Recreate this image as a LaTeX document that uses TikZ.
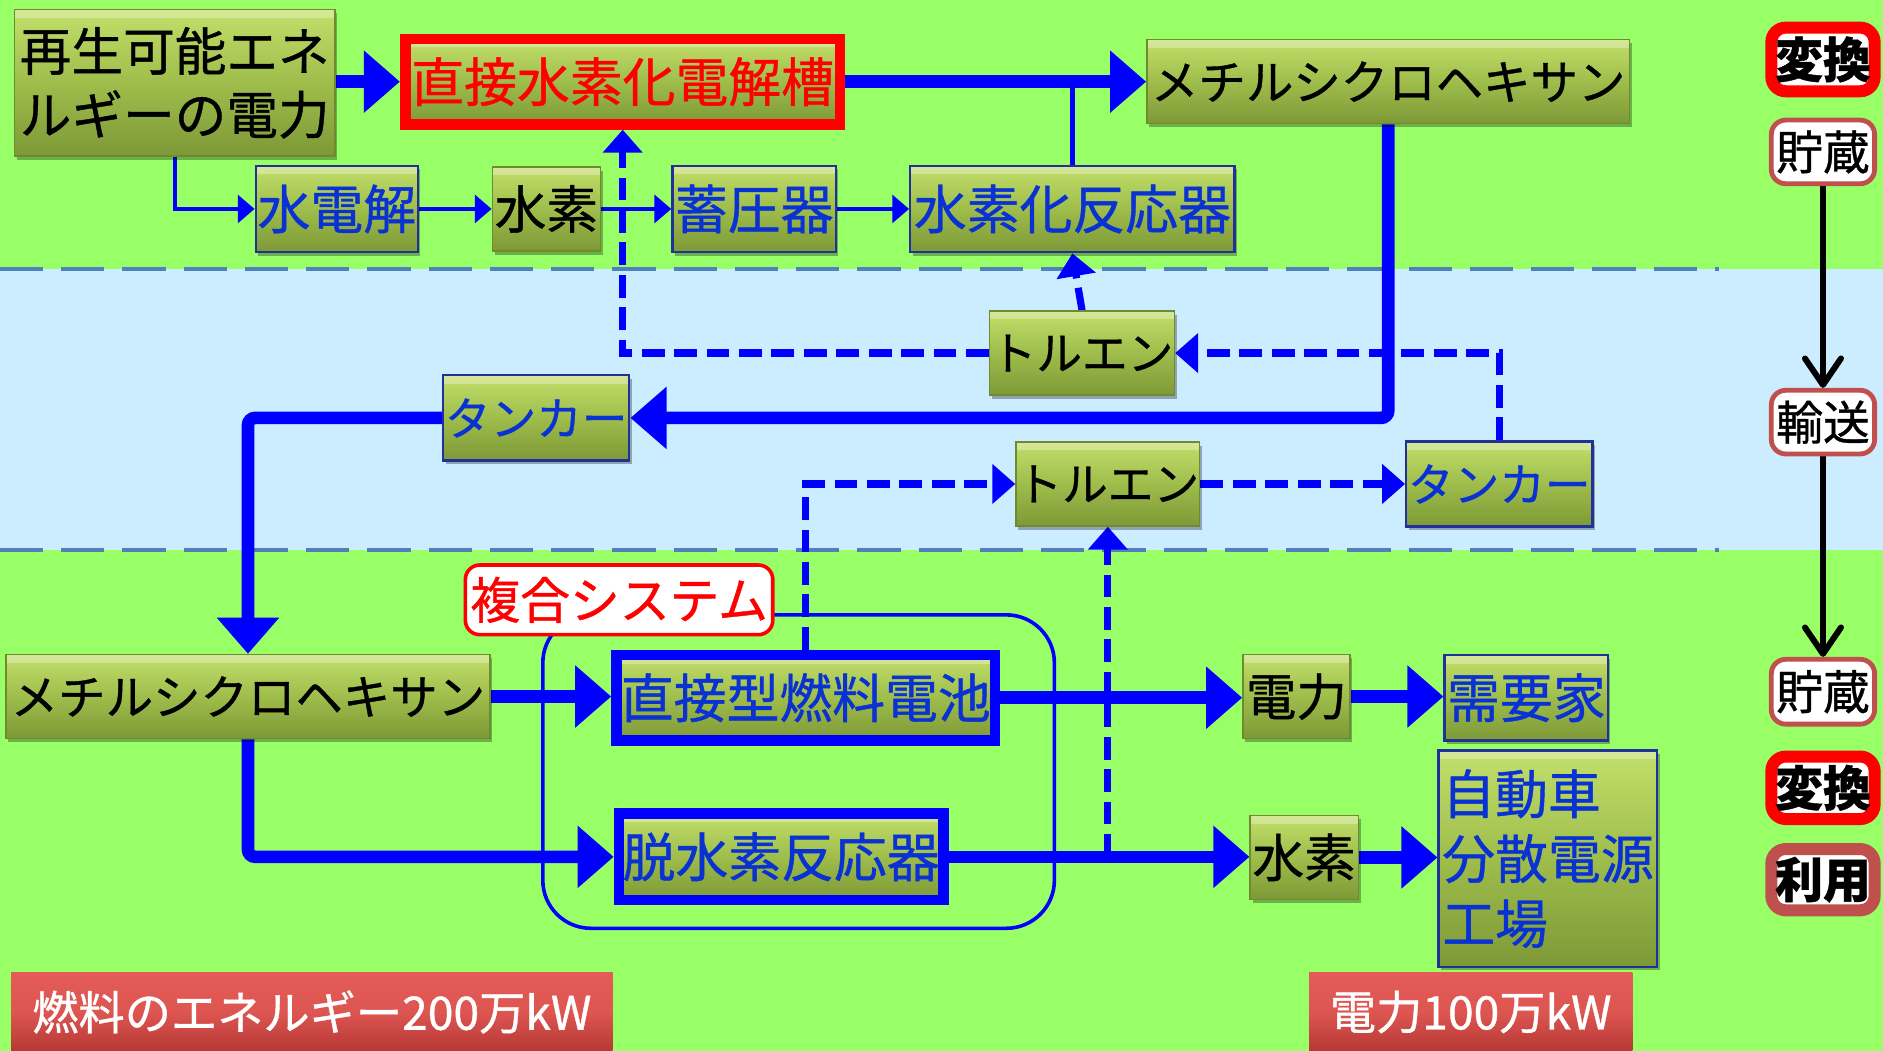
\documentclass[tikz,border=0pt]{standalone}
\usepackage{fontspec}
\setmainfont{Noto Sans CJK JP}[FakeBold=0.8]
\usetikzlibrary{arrows.meta,shadows}
\definecolor{bggreen}{HTML}{99FF66}
\definecolor{bgblue}{HTML}{CCECFF}
\definecolor{sepblue}{HTML}{4F81BD}
\definecolor{txtblue}{HTML}{0A32D2}
\definecolor{gtop}{HTML}{C3DF6B}
\definecolor{gmid}{HTML}{9EBD4B}
\definecolor{gbot}{HTML}{7D9937}
\definecolor{gedge}{HTML}{6F8A30}
\definecolor{bedge}{HTML}{22309A}
\definecolor{rtop}{HTML}{E45B57}
\definecolor{rbot}{HTML}{B63834}
\definecolor{brick}{HTML}{C0504D}
\pgfdeclarelayer{bgl}
\pgfdeclarelayer{lnl}
\pgfsetlayers{bgl,lnl,main}
\newcommand\fsz[2]{\fontsize{#1}{#2}\selectfont}
\begin{document}
\begin{tikzpicture}[x=1pt,y=-1pt,
  gbox/.style={shade, top color=gtop, bottom color=gbot, middle color=gmid,
    draw=gedge, line width=1.2pt, inner sep=0pt,
    drop shadow={shadow xshift=2pt,shadow yshift=-3pt,opacity=0.3,fill=black},
    path picture={\fill[white,opacity=0.3] (path picture bounding box.north west) rectangle ([yshift=-7pt]path picture bounding box.north east);},
    font=\fsz{44}{53}},
  bluebox/.style={gbox, draw=bedge, line width=2pt, text=txtblue},
  thickblue/.style={gbox, draw=blue, line width=9pt, text=txtblue},
  redthick/.style={gbox, draw=red, line width=9pt, text=red},
  redbox/.style={shade, top color=rtop, bottom color=rbot, middle color=rtop!85!rbot, inner sep=0pt, text=white, font=\fsz{38.5}{46}},
  lab/.style={fill=white, rounded corners=12pt, inner sep=0pt, minimum width=86pt, font=\fsz{39}{44}},
  conv/.style={lab, draw=red, line width=10pt, font=\fsz{40}{44}\bfseries},
  stor/.style={lab, draw=brick, line width=4pt},
  big/.style={draw=blue, line width=10.5pt, -{Triangle[length=30pt,width=50pt]}},
  thinarr/.style={draw=blue, line width=3.5pt, -{Triangle[length=14pt,width=23pt]}},
  thinln/.style={draw=blue, line width=4pt},
  dsh/.style={draw=blue, line width=6pt, dash pattern=on 19pt off 8pt, -{Triangle[length=19pt,width=32pt]}},
  sepline/.style={draw=sepblue, line width=4pt, dash pattern=on 36pt off 15pt},
  blk/.style={draw=black, line width=5pt, -{Straight Barb[length=22pt,width=30pt,round]}}
]
\useasboundingbox (0,0) rectangle (1568,875);
\begin{pgfonlayer}{bgl}
  \fill[bggreen] (0,0) rectangle (1568,875);
  \fill[bgblue] (0,224) rectangle (1568,458);
  \draw[sepline] (0,224) -- (1431,224);
  \draw[sepline] (0,458) -- (1431,458);
  \draw[blue, line width=3pt, rounded corners=40pt] (452,512) rectangle (878,773);
\end{pgfonlayer}

% nodes
\node[gbox, minimum width=267pt, minimum height=122pt, align=left, font=\fsz{43}{53}] (ren) at (145.5,69) {再生可能エネ\\ルギーの電力};
\node[redthick, minimum width=362pt, minimum height=71pt] (dhe) at (518.5,68) {直接水素化電解槽};
\node[gbox, minimum width=402pt, minimum height=70pt, font=\fsz{39.5}{48}] (mch1) at (1156,68) {メチルシクロヘキサン};
\node[bluebox, minimum width=135pt, minimum height=72pt] (wel) at (280.5,174) {水電解};
\node[gbox, minimum width=90pt, minimum height=70pt, font=\fsz{43}{50}] (h1) at (455,174) {水素};
\node[bluebox, minimum width=136pt, minimum height=72pt] (acc) at (628,174) {蓄圧器};
\node[bluebox, minimum width=270pt, minimum height=72pt] (hyd) at (893,174) {水素化反応器};
\node[gbox, minimum width=154pt, minimum height=70pt, font=\fsz{38}{46}] (tol1) at (901,294) {トルエン};
\node[bluebox, minimum width=155pt, minimum height=71pt, font=\fsz{38}{46}] (tk1) at (446.5,348) {タンカー};
\node[gbox, minimum width=153pt, minimum height=70pt, font=\fsz{38}{46}] (tol2) at (922.5,403) {トルエン};
\node[bluebox, minimum width=155pt, minimum height=71pt, font=\fsz{38}{46}] (tk2) at (1248.5,403) {タンカー};
\node[gbox, minimum width=403pt, minimum height=70pt, font=\fsz{39.5}{48}] (mch2) at (206.5,580) {メチルシクロヘキサン};
\node[thickblue, minimum width=315pt, minimum height=71pt] (fc) at (671,581) {直接型燃料電池};
\node[thickblue, minimum width=270pt, minimum height=72pt] (deh) at (650.5,713.5) {脱水素反応器};
\node[gbox, minimum width=89pt, minimum height=70pt, font=\fsz{42}{50}] (pw) at (1079.5,580) {電力};
\node[bluebox, minimum width=136pt, minimum height=71pt] (dem) at (1271,581) {需要家};
\node[gbox, minimum width=90pt, minimum height=70pt, font=\fsz{43}{50}] (h2) at (1086,714) {水素};
\node[bluebox, minimum width=182pt, minimum height=180pt, align=left, text width=176pt, font=\fsz{44}{54}] (use) at (1289,715) {自動車\\分散電源\\工場};
\node[redbox, minimum width=501pt, minimum height=65pt, anchor=north west] (fe) at (9,810) {燃料のエネルギー200万kW};
\node[redbox, minimum width=269pt, minimum height=65pt, anchor=north west] (pwr) at (1090,810) {電力100万kW};
\node[draw=red, line width=3pt, fill=white, rounded corners=12pt, minimum width=256pt, minimum height=58pt, inner sep=0pt, text=red, font=\fsz{41.5}{50}] (cs) at (515.5,499.5) {複合システム};

\node[conv, minimum height=53pt] (cv1) at (1518,49.5) {変換};
\node[stor, minimum height=53pt] (st1) at (1518,126.5) {貯蔵};
\node[stor, minimum height=53pt] (tr) at (1518,351.5) {輸送};
\node[stor, minimum height=54pt] (st2) at (1518,576) {貯蔵};
\node[conv, minimum height=52pt] (cv2) at (1518,656) {変換};
\node[lab, draw=brick, line width=10pt, font=\fsz{40}{44}\bfseries, minimum height=51pt] (ut) at (1518,732.5) {利用};

% connectors
\begin{pgfonlayer}{lnl}
  \draw[big] (ren.east |- dhe.west) -- (dhe.west);
  \draw[big] (dhe.east) -- (mch1.west);
  \draw[thinln] (hyd.north) -- (hyd.north |- dhe.east);
  \draw[thinarr] (ren.south) |- (wel.west);
  \draw[thinarr] (wel.east) -- (h1.west);
  \draw[thinarr] (h1.east) -- (acc.west);
  \draw[thinarr] (acc.east) -- (hyd.west);
  \draw[dsh] (tol1.west) -| (dhe.south);
  \draw[dsh] (tol1.north) -- (hyd.south);
  \draw[big, rounded corners=6pt] (mch1.south) |- (tk1.east);
  \draw[dsh] (tk2.north) |- (tol1.east);
  \draw[big, rounded corners=6pt] (tk1.west) -| (mch2.north);
  \draw[big] (mch2.east) -- (mch2.east -| fc.west);
  \draw[big, rounded corners=6pt] (mch2.south) |- (deh.west);
  \draw[big] (fc.east) -- (fc.east -| pw.west);
  \draw[big] (pw.east) -- (pw.east -| dem.west);
  \draw[big] (deh.east) -- (deh.east -| h2.west);
  \draw[big] (h2.east) -- (h2.east -| use.west);
  \coordinate (jn) at (tol2.south |- deh.east);
  \draw[dsh] (jn) -- (tol2.south);
  \draw[dsh] (fc.north) |- (tol2.west);
  \draw[dsh] (tol2.east) -- (tk2.west);
  \draw[blk] (st1.south) -- (tr.north);
  \draw[blk] (tr.south) -- (st2.north);
\end{pgfonlayer}
\end{tikzpicture}
\end{document}
